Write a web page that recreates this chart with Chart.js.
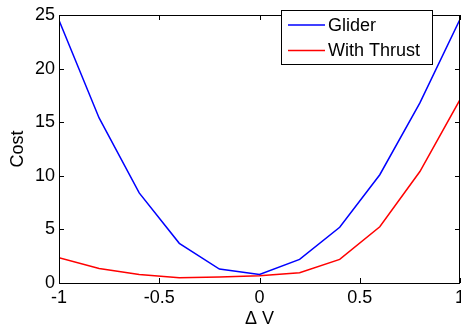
<!DOCTYPE html>
<html>
<head>
<meta charset="utf-8">
<script src="https://cdn.jsdelivr.net/npm/chart.js@4/dist/chart.umd.min.js"></script>
<style>
  html, body { margin: 0; padding: 0; background: #fff; }
  #wrap { width: 461px; height: 330px; }
</style>
</head>
<body>
<div id="wrap"><canvas id="grafico"></canvas></div>
<script>
// valores
const deltaV = [-1, -0.8, -0.6, -0.4, -0.2, 0, 0.2, 0.4, 0.6, 0.8, 1];
const glider = [24.5, 15.4, 8.4, 3.7, 1.3, 0.8, 2.2, 5.2, 10.1, 16.8, 24.6];
const withThrust = [2.35, 1.35, 0.8, 0.5, 0.55, 0.68, 0.95, 2.2, 5.25, 10.4, 17.1];
const seriesNames = ['Glider', 'With Thrust'];
const xTicks = [-1, -0.5, 0, 0.5, 1];
const yTicks = [0, 5, 10, 15, 20, 25];

const FONT = '"Liberation Sans", Arial, sans-serif';

// caixa estilo MATLAB com ticks para dentro + legenda dentro do gráfico
const caixaPlugin = {
  id: 'caixa',
  afterDatasetsDraw(chart) {
    const { ctx, chartArea: a, scales } = chart;
    ctx.save();
    ctx.strokeStyle = '#000';
    ctx.lineWidth = 1;
    ctx.strokeRect(a.left + 0.5, a.top + 0.5, a.right - a.left - 1, a.bottom - a.top);
    const t = 5;
    ctx.beginPath();
    xTicks.forEach(v => {
      const x = Math.round(scales.x.getPixelForValue(v)) + 0.5;
      ctx.moveTo(x, a.bottom); ctx.lineTo(x, a.bottom - t);
      ctx.moveTo(x, a.top); ctx.lineTo(x, a.top + t);
    });
    yTicks.forEach(v => {
      const y = Math.round(scales.y.getPixelForValue(v)) + 0.5;
      ctx.moveTo(a.left, y); ctx.lineTo(a.left + t, y);
      ctx.moveTo(a.right, y); ctx.lineTo(a.right - t, y);
    });
    ctx.stroke();

    // legenda
    const lx = 281, ly = 10, lw = 151, lh = 54;
    ctx.fillStyle = '#fff';
    ctx.fillRect(lx, ly, lw, lh);
    ctx.strokeStyle = '#000';
    ctx.strokeRect(lx + 0.5, ly + 0.5, lw, lh);
    ctx.font = '18px ' + FONT;
    ctx.textBaseline = 'middle';
    chart.data.datasets.forEach((ds, i) => {
      const y = ly + 15 + i * 25.5;
      ctx.strokeStyle = ds.borderColor;
      ctx.lineWidth = 1.5;
      ctx.beginPath();
      ctx.moveTo(lx + 7, y); ctx.lineTo(lx + 44, y);
      ctx.stroke();
      ctx.fillStyle = '#000';
      ctx.fillText(ds.label, lx + 47, y + 1);
    });
    ctx.restore();
  }
};

const ctxGrafico = document.getElementById('grafico').getContext('2d');
const grafico = new Chart(ctxGrafico, {
  type: 'line',
  data: {
    labels: deltaV,
    datasets: [{
      label: seriesNames[0],
      data: deltaV.map((x, i) => ({ x: x, y: glider[i] })),
      borderColor: '#0000ff',
      borderWidth: 1.5,
      pointRadius: 0,
      tension: 0
    }, {
      label: seriesNames[1],
      data: deltaV.map((x, i) => ({ x: x, y: withThrust[i] })),
      borderColor: '#ff0000',
      borderWidth: 1.5,
      pointRadius: 0,
      tension: 0
    }]
  },
  options: {
    responsive: true,
    maintainAspectRatio: false,
    animation: false,
    layout: { padding: { top: 15, right: 1, left: 7, bottom: 0 } },
    plugins: { legend: { display: false }, tooltip: { enabled: false } },
    scales: {
      x: {
        type: 'linear',
        min: -1, max: 1,
        afterBuildTicks: s => { s.ticks = xTicks.map(v => ({ value: v })); },
        afterFit: s => { s.height = 47; s.paddingLeft = 0; s.paddingRight = 0; },
        grid: { display: false, drawTicks: false },
        border: { display: false },
        ticks: { color: '#000', font: { family: FONT, size: 18 }, padding: 4, maxRotation: 0,
                 callback: v => String(v) },
        title: { display: true, text: 'Δ V', color: '#000', font: { family: FONT, size: 18 }, padding: { top: 0, bottom: 0 } }
      },
      y: {
        min: 0, max: 25,
        afterBuildTicks: s => { s.ticks = yTicks.map(v => ({ value: v })); },
        afterFit: s => { s.width = 52; s.paddingTop = 0; s.paddingBottom = 0; },
        grid: { display: false, drawTicks: false },
        border: { display: false },
        ticks: { color: '#000', font: { family: FONT, size: 18 }, padding: 4,
                 callback: v => String(v) },
        title: { display: true, text: 'Cost', color: '#000', font: { family: FONT, size: 18 }, padding: { top: 0, bottom: 0 } }
      }
    }
  },
  plugins: [caixaPlugin]
});
</script>
</body>
</html>
